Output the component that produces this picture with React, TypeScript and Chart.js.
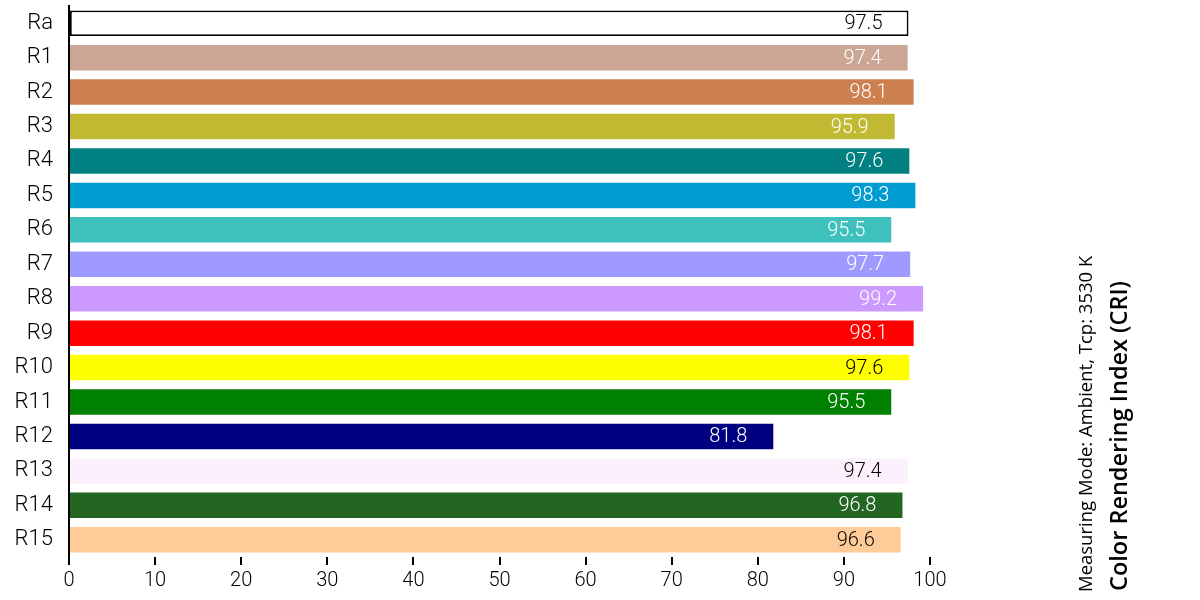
import { useEffect, useRef } from "react"
import { Chart, registerables } from "chart.js"

Chart.register(...registerables)

// 데이터
const categories = ["Ra", "R1", "R2", "R3", "R4", "R5", "R6", "R7", "R8", "R9", "R10", "R11", "R12", "R13", "R14", "R15"]
const criValues = [97.5, 97.4, 98.1, 95.9, 97.6, 98.3, 95.5, 97.7, 99.2, 98.1, 97.6, 95.5, 81.8, 97.4, 96.8, 96.6]
const barColors = [
  "#ffffff", "#cca694", "#cc8050", "#c0b931", "#008080", "#009bd0", "#3ec1bd", "#9e9aff",
  "#cc99ff", "#ff0000", "#ffff00", "#008000", "#000080", "#fcf0fc", "#236623", "#ffcc99",
]
const labelColors = [
  "#000000", "#ffffff", "#ffffff", "#ffffff", "#ffffff", "#ffffff", "#ffffff", "#ffffff",
  "#ffffff", "#ffffff", "#000000", "#ffffff", "#ffffff", "#000000", "#ffffff", "#000000",
]
const xTicks = [0, 10, 20, 30, 40, 50, 60, 70, 80, 90, 100]
const subTitle = "Measuring Mode: Ambient, Tcp: 3530 K"
const mainTitle = "Color Rendering Index (CRI)"

const NARROW = "Roboto, 'DejaVu Sans Condensed', sans-serif"
const TITLE_FONT = "'Open Sans', sans-serif"

// 막대 안쪽 값 라벨
const valueLabels = {
  id: "valueLabels",
  afterDatasetsDraw(chart: any) {
    const ctx = chart.ctx
    const meta = chart.getDatasetMeta(0)
    ctx.save()
    ctx.font = `300 20px ${NARROW}`
    ctx.textAlign = "right"
    ctx.textBaseline = "middle"
    meta.data.forEach((bar: any, i: number) => {
      ctx.fillStyle = labelColors[i]
      ctx.fillText(criValues[i].toFixed(1), bar.x - 26, bar.y + 1)
    })
    ctx.restore()
  },
}

// 오른쪽 세로 제목
const sideTitles = {
  id: "sideTitles",
  afterDraw(chart: any) {
    const ctx = chart.ctx
    ctx.save()
    ctx.fillStyle = "#000"
    ctx.textAlign = "left"
    ctx.textBaseline = "middle"
    ctx.translate(1087, 592)
    ctx.rotate(-Math.PI / 2)
    ctx.font = `18.5px ${TITLE_FONT}`
    ctx.fillText(subTitle, 0, 0)
    ctx.restore()

    ctx.save()
    ctx.fillStyle = "#000"
    ctx.textAlign = "left"
    ctx.textBaseline = "middle"
    ctx.translate(1120, 591)
    ctx.rotate(-Math.PI / 2)
    ctx.font = `600 23.5px ${TITLE_FONT}`
    ctx.fillText(mainTitle, 0, 0)
    ctx.restore()
  },
}

function CriChart() {
  const chartRef = useRef<HTMLCanvasElement>(null)
  const chartInstance = useRef<Chart | null>(null)

  useEffect(() => {
    if (!chartRef.current) return
    if (chartInstance.current) chartInstance.current.destroy()

    const ctx = chartRef.current.getContext("2d")
    if (!ctx) return

    chartInstance.current = new Chart(ctx, {
      type: "bar",
      data: {
        labels: categories,
        datasets: [
          {
            data: criValues,
            backgroundColor: barColors,
            borderColor: "#000000",
            borderWidth: categories.map((c) => (c === "Ra" ? 1.8 : 0)),
            borderSkipped: false,
            categoryPercentage: 1,
            barPercentage: 0.74,
          },
        ],
      },
      options: {
        indexAxis: "y",
        animation: false,
        responsive: true,
        maintainAspectRatio: false,
        layout: {
          padding: { top: 6, right: 270, bottom: 0, left: 0 },
        },
        plugins: {
          legend: { display: false },
          tooltip: { enabled: false },
        },
        scales: {
          x: {
            min: 0,
            max: 100,
            afterBuildTicks: (scale: any) => {
              scale.ticks = xTicks.map((v) => ({ value: v }))
            },
            afterFit: (scale: any) => {
              scale.height = 43
            },
            border: { display: false },
            grid: {
              drawOnChartArea: false,
              drawTicks: true,
              tickLength: 8,
              lineWidth: 2,
              color: "#000000",
            },
            ticks: {
              color: "#000000",
              padding: 4,
              font: { family: NARROW, size: 20, weight: 300 },
            },
          },
          y: {
            afterFit: (scale: any) => {
              scale.width = 69
              scale.paddingTop = 0
              scale.paddingBottom = 0
            },
            border: { display: true, color: "#000000", width: 2 },
            grid: { display: false },
            ticks: {
              color: "#000000",
              padding: 8,
              font: { family: NARROW, size: 22, weight: 300 },
            },
          },
        },
      },
      plugins: [valueLabels, sideTitles],
    })

    return () => {
      if (chartInstance.current) {
        chartInstance.current.destroy()
        chartInstance.current = null
      }
    }
  }, [])

  return (
    <div style={{ position: "absolute", left: 0, top: 0, width: "1200px", height: "600px", background: "#fff" }}>
      <canvas ref={chartRef} />
    </div>
  )
}

export default function App() {
  return <CriChart />
}
